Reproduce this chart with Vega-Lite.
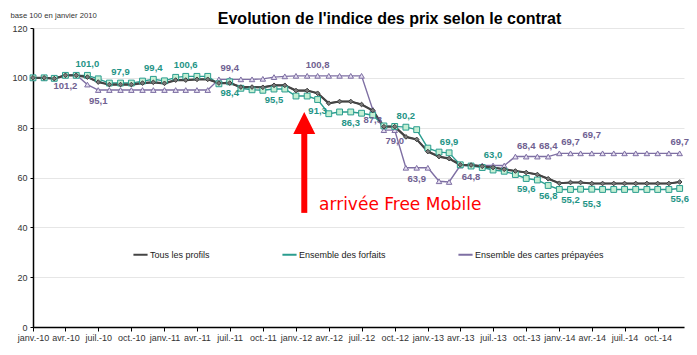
{
  "$schema": "https://vega.github.io/schema/vega-lite/v6.json",
  "width": 651,
  "height": 299,
  "autosize": {"type": "none"},
  "padding": {"left": 33, "top": 28, "right": 13, "bottom": 28},
  "background": "white",
  "config": {"font": "Liberation Sans", "view": {"stroke": null}},
  "title": {
    "text": "Evolution de l'indice des prix selon le contrat",
    "fontSize": 16,
    "fontWeight": "bold",
    "font": "Liberation Sans",
    "color": "#000000",
    "anchor": "middle",
    "frame": "group",
    "dx": 31,
    "offset": -16
  },
  "datasets": {
    "main": [
      {"d": "2010-01-01", "Tous les profils": 100, "Ensemble des forfaits": 100, "Ensemble des cartes prépayées": 100},
      {"d": "2010-02-01", "Tous les profils": 100, "Ensemble des forfaits": 100, "Ensemble des cartes prépayées": 100},
      {"d": "2010-03-01", "Tous les profils": 99.7, "Ensemble des forfaits": 99.8, "Ensemble des cartes prépayées": 99.8},
      {"d": "2010-04-01", "Tous les profils": 101.0, "Ensemble des forfaits": 101.0, "Ensemble des cartes prépayées": 101.2},
      {"d": "2010-05-01", "Tous les profils": 101.0, "Ensemble des forfaits": 101.0, "Ensemble des cartes prépayées": 101.2},
      {"d": "2010-06-01", "Tous les profils": 100.3, "Ensemble des forfaits": 101.0, "Ensemble des cartes prépayées": 97.3},
      {"d": "2010-07-01", "Tous les profils": 98.3, "Ensemble des forfaits": 99.6, "Ensemble des cartes prépayées": 95.1},
      {"d": "2010-08-01", "Tous les profils": 97.3, "Ensemble des forfaits": 97.9, "Ensemble des cartes prépayées": 95.1},
      {"d": "2010-09-01", "Tous les profils": 97.3, "Ensemble des forfaits": 97.9, "Ensemble des cartes prépayées": 95.1},
      {"d": "2010-10-01", "Tous les profils": 97.3, "Ensemble des forfaits": 97.9, "Ensemble des cartes prépayées": 95.1},
      {"d": "2010-11-01", "Tous les profils": 97.9, "Ensemble des forfaits": 98.7, "Ensemble des cartes prépayées": 95.1},
      {"d": "2010-12-01", "Tous les profils": 98.2, "Ensemble des forfaits": 99.4, "Ensemble des cartes prépayées": 95.1},
      {"d": "2011-01-01", "Tous les profils": 97.8, "Ensemble des forfaits": 98.8, "Ensemble des cartes prépayées": 95.1},
      {"d": "2011-02-01", "Tous les profils": 99.1, "Ensemble des forfaits": 100.2, "Ensemble des cartes prépayées": 95.1},
      {"d": "2011-03-01", "Tous les profils": 99.1, "Ensemble des forfaits": 100.6, "Ensemble des cartes prépayées": 95.1},
      {"d": "2011-04-01", "Tous les profils": 99.4, "Ensemble des forfaits": 100.6, "Ensemble des cartes prépayées": 95.1},
      {"d": "2011-05-01", "Tous les profils": 99.4, "Ensemble des forfaits": 100.6, "Ensemble des cartes prépayées": 95.1},
      {"d": "2011-06-01", "Tous les profils": 97.9, "Ensemble des forfaits": 97.6, "Ensemble des cartes prépayées": 99.4},
      {"d": "2011-07-01", "Tous les profils": 97.9, "Ensemble des forfaits": 98.4, "Ensemble des cartes prépayées": 99.4},
      {"d": "2011-08-01", "Tous les profils": 96.3, "Ensemble des forfaits": 95.8, "Ensemble des cartes prépayées": 99.4},
      {"d": "2011-09-01", "Tous les profils": 96.3, "Ensemble des forfaits": 95.2, "Ensemble des cartes prépayées": 99.4},
      {"d": "2011-10-01", "Tous les profils": 96.2, "Ensemble des forfaits": 95.0, "Ensemble des cartes prépayées": 99.6},
      {"d": "2011-11-01", "Tous les profils": 97.0, "Ensemble des forfaits": 95.5, "Ensemble des cartes prépayées": 100.3},
      {"d": "2011-12-01", "Tous les profils": 97.0, "Ensemble des forfaits": 95.5, "Ensemble des cartes prépayées": 100.6},
      {"d": "2012-01-01", "Tous les profils": 94.9, "Ensemble des forfaits": 92.7, "Ensemble des cartes prépayées": 100.8},
      {"d": "2012-02-01", "Tous les profils": 94.9, "Ensemble des forfaits": 92.7, "Ensemble des cartes prépayées": 100.8},
      {"d": "2012-03-01", "Tous les profils": 93.8, "Ensemble des forfaits": 91.3, "Ensemble des cartes prépayées": 100.8},
      {"d": "2012-04-01", "Tous les profils": 89.8, "Ensemble des forfaits": 85.6, "Ensemble des cartes prépayées": 100.8},
      {"d": "2012-05-01", "Tous les profils": 90.5, "Ensemble des forfaits": 86.3, "Ensemble des cartes prépayées": 100.8},
      {"d": "2012-06-01", "Tous les profils": 90.5, "Ensemble des forfaits": 86.3, "Ensemble des cartes prépayées": 100.8},
      {"d": "2012-07-01", "Tous les profils": 89.3, "Ensemble des forfaits": 85.8, "Ensemble des cartes prépayées": 100.8},
      {"d": "2012-08-01", "Tous les profils": 86.9, "Ensemble des forfaits": 85.0, "Ensemble des cartes prépayées": 87.3},
      {"d": "2012-09-01", "Tous les profils": 80.4, "Ensemble des forfaits": 80.7, "Ensemble des cartes prépayées": 79.0},
      {"d": "2012-10-01", "Tous les profils": 80.4, "Ensemble des forfaits": 80.5, "Ensemble des cartes prépayées": 79.0},
      {"d": "2012-11-01", "Tous les profils": 76.3, "Ensemble des forfaits": 80.2, "Ensemble des cartes prépayées": 63.9},
      {"d": "2012-12-01", "Tous les profils": 75.3, "Ensemble des forfaits": 79.2, "Ensemble des cartes prépayées": 63.9},
      {"d": "2013-01-01", "Tous les profils": 70.4, "Ensemble des forfaits": 71.8, "Ensemble des cartes prépayées": 63.9},
      {"d": "2013-02-01", "Tous les profils": 68.4, "Ensemble des forfaits": 70.2, "Ensemble des cartes prépayées": 58.5},
      {"d": "2013-03-01", "Tous les profils": 67.6, "Ensemble des forfaits": 69.9, "Ensemble des cartes prépayées": 58.2},
      {"d": "2013-04-01", "Tous les profils": 65.1, "Ensemble des forfaits": 65.1, "Ensemble des cartes prépayées": 64.8},
      {"d": "2013-05-01", "Tous les profils": 65.0, "Ensemble des forfaits": 64.6, "Ensemble des cartes prépayées": 64.8},
      {"d": "2013-06-01", "Tous les profils": 64.5, "Ensemble des forfaits": 64.0, "Ensemble des cartes prépayées": 64.8},
      {"d": "2013-07-01", "Tous les profils": 64.0, "Ensemble des forfaits": 63.0, "Ensemble des cartes prépayées": 64.8},
      {"d": "2013-08-01", "Tous les profils": 63.3, "Ensemble des forfaits": 62.5, "Ensemble des cartes prépayées": 64.8},
      {"d": "2013-09-01", "Tous les profils": 62.6, "Ensemble des forfaits": 61.2, "Ensemble des cartes prépayées": 68.4},
      {"d": "2013-10-01", "Tous les profils": 62.0, "Ensemble des forfaits": 59.6, "Ensemble des cartes prépayées": 68.4},
      {"d": "2013-11-01", "Tous les profils": 61.2, "Ensemble des forfaits": 59.0, "Ensemble des cartes prépayées": 68.4},
      {"d": "2013-12-01", "Tous les profils": 59.5, "Ensemble des forfaits": 56.8, "Ensemble des cartes prépayées": 68.4},
      {"d": "2014-01-01", "Tous les profils": 57.7, "Ensemble des forfaits": 55.2, "Ensemble des cartes prépayées": 69.7},
      {"d": "2014-02-01", "Tous les profils": 58.0, "Ensemble des forfaits": 55.2, "Ensemble des cartes prépayées": 69.7},
      {"d": "2014-03-01", "Tous les profils": 58.0, "Ensemble des forfaits": 55.3, "Ensemble des cartes prépayées": 69.7},
      {"d": "2014-04-01", "Tous les profils": 57.6, "Ensemble des forfaits": 55.3, "Ensemble des cartes prépayées": 69.7},
      {"d": "2014-05-01", "Tous les profils": 57.6, "Ensemble des forfaits": 55.2, "Ensemble des cartes prépayées": 69.7},
      {"d": "2014-06-01", "Tous les profils": 57.6, "Ensemble des forfaits": 55.2, "Ensemble des cartes prépayées": 69.7},
      {"d": "2014-07-01", "Tous les profils": 57.6, "Ensemble des forfaits": 55.2, "Ensemble des cartes prépayées": 69.7},
      {"d": "2014-08-01", "Tous les profils": 57.6, "Ensemble des forfaits": 55.2, "Ensemble des cartes prépayées": 69.7},
      {"d": "2014-09-01", "Tous les profils": 57.6, "Ensemble des forfaits": 55.2, "Ensemble des cartes prépayées": 69.7},
      {"d": "2014-10-01", "Tous les profils": 57.6, "Ensemble des forfaits": 55.2, "Ensemble des cartes prépayées": 69.7},
      {"d": "2014-11-01", "Tous les profils": 57.6, "Ensemble des forfaits": 55.2, "Ensemble des cartes prépayées": 69.7},
      {"d": "2014-12-01", "Tous les profils": 58.2, "Ensemble des forfaits": 55.6, "Ensemble des cartes prépayées": 69.7}
    ],
    "labUp": [
      {"d": "2010-06-01", "serie": "Ensemble des forfaits", "v": 101.0, "txt": "101,0"},
      {"d": "2010-09-01", "serie": "Ensemble des forfaits", "v": 97.9, "txt": "97,9"},
      {"d": "2010-12-01", "serie": "Ensemble des forfaits", "v": 99.4, "txt": "99,4"},
      {"d": "2011-03-01", "serie": "Ensemble des forfaits", "v": 100.6, "txt": "100,6"},
      {"d": "2012-11-01", "serie": "Ensemble des forfaits", "v": 80.2, "txt": "80,2"},
      {"d": "2013-03-01", "serie": "Ensemble des forfaits", "v": 69.9, "txt": "69,9"},
      {"d": "2013-07-01", "serie": "Ensemble des forfaits", "v": 64.5, "txt": "63,0"},
      {"d": "2011-07-01", "serie": "Ensemble des cartes prépayées", "v": 99.4, "txt": "99,4"},
      {"d": "2012-03-01", "serie": "Ensemble des cartes prépayées", "v": 100.8, "txt": "100,8"},
      {"d": "2013-10-01", "serie": "Ensemble des cartes prépayées", "v": 68.4, "txt": "68,4"},
      {"d": "2013-12-01", "serie": "Ensemble des cartes prépayées", "v": 68.4, "txt": "68,4"},
      {"d": "2014-02-01", "serie": "Ensemble des cartes prépayées", "v": 69.7, "txt": "69,7"},
      {"d": "2014-04-01", "serie": "Ensemble des cartes prépayées", "v": 72.6, "txt": "69,7"},
      {"d": "2014-12-01", "serie": "Ensemble des cartes prépayées", "v": 69.7, "txt": "69,7"}
    ],
    "labDown": [
      {"d": "2011-07-01", "serie": "Ensemble des forfaits", "v": 98.4, "txt": "98,4"},
      {"d": "2011-11-01", "serie": "Ensemble des forfaits", "v": 95.5, "txt": "95,5"},
      {"d": "2012-03-01", "serie": "Ensemble des forfaits", "v": 91.3, "txt": "91,3"},
      {"d": "2012-06-01", "serie": "Ensemble des forfaits", "v": 86.3, "txt": "86,3"},
      {"d": "2013-10-01", "serie": "Ensemble des forfaits", "v": 59.6, "txt": "59,6"},
      {"d": "2013-12-01", "serie": "Ensemble des forfaits", "v": 56.8, "txt": "56,8"},
      {"d": "2014-02-01", "serie": "Ensemble des forfaits", "v": 55.2, "txt": "55,2"},
      {"d": "2014-04-01", "serie": "Ensemble des forfaits", "v": 53.9, "txt": "55,3"},
      {"d": "2014-12-01", "serie": "Ensemble des forfaits", "v": 55.6, "txt": "55,6"},
      {"d": "2010-04-01", "serie": "Ensemble des cartes prépayées", "v": 101.2, "txt": "101,2"},
      {"d": "2010-07-01", "serie": "Ensemble des cartes prépayées", "v": 95.1, "txt": "95,1"},
      {"d": "2012-08-01", "serie": "Ensemble des cartes prépayées", "v": 87.3, "txt": "87,3"},
      {"d": "2012-10-01", "serie": "Ensemble des cartes prépayées", "v": 79.0, "txt": "79,0"},
      {"d": "2012-12-01", "serie": "Ensemble des cartes prépayées", "v": 63.9, "txt": "63,9"},
      {"d": "2013-05-01", "serie": "Ensemble des cartes prépayées", "v": 64.8, "txt": "64,8"}
    ],
    "arrow": [{"d": "2012-01-24", "v": 45.8, "v2": 79}],
    "head": [{"d": "2012-01-24", "v": 81.9}],
    "note": [{"d": "2012-03-05", "v": 49, "txt": "arrivée Free Mobile"}]
  },
  "encoding": {
    "x": {
      "field": "d",
      "type": "temporal",
      "scale": {
        "type": "utc",
        "domain": [
          {"year": 2010, "month": 1, "date": 1, "utc": true},
          {"year": 2014, "month": 12, "date": 13, "utc": true}
        ]
      },
      "axis": {
        "title": null,
        "tickCount": {"interval": "month", "step": 3},
        "labelExpr": "['janv.','févr.','mars','avr.','mai','juin','juil.','août','sept.','oct.','nov.','déc.'][utcmonth(datum.value)] + '-' + utcFormat(datum.value, '%y')",
        "labelFontSize": 9,
        "labelColor": "#333333",
        "labelAngle": 0,
        "labelOverlap": false,
        "labelFlush": false,
        "labelPadding": 2,
        "domainColor": "#000000",
        "domainWidth": 1.5,
        "tickColor": "#000000",
        "tickSize": 4,
        "grid": false
      }
    },
    "y": {
      "field": "v",
      "type": "quantitative",
      "scale": {"domain": [0, 120]},
      "axis": {
        "title": "base 100 en janvier 2010",
        "titleAngle": 0,
        "titleAlign": "left",
        "titleBaseline": "middle",
        "titleX": -23,
        "titleY": -13,
        "titleFontSize": 7.7,
        "titleFontWeight": "normal",
        "titleColor": "#333333",
        "values": [0, 20, 40, 60, 80, 100, 120],
        "labelFontSize": 9,
        "labelColor": "#333333",
        "labelPadding": 3,
        "domainColor": "#000000",
        "domainWidth": 1.5,
        "tickColor": "#000000",
        "tickSize": 3,
        "gridColor": "#e6e6e6",
        "gridWidth": 1
      }
    }
  },
  "layer": [
    {
      "data": {"name": "main"},
      "transform": [{"fold": ["Ensemble des cartes prépayées", "Ensemble des forfaits", "Tous les profils"], "as": ["serie", "v"]}],
      "mark": {"type": "line", "strokeWidth": 1.4},
      "encoding": {
        "color": {
          "field": "serie",
          "type": "nominal",
          "scale": {
            "domain": ["Tous les profils", "Ensemble des forfaits", "Ensemble des cartes prépayées"],
            "range": ["#444444", "#2a9d8f", "#7e6fa3"]
          },
          "legend": {
            "title": null,
            "orient": "none",
            "legendX": 99,
            "legendY": 218,
            "direction": "horizontal",
            "columnPadding": 68,
            "symbolType": "stroke",
            "symbolSize": 200,
            "symbolStrokeWidth": 2,
            "labelFontSize": 9,
            "labelColor": "#222222",
            "labelOffset": 1
          }
        }
      }
    },
    {
      "data": {"name": "main"},
      "mark": {"type": "line", "strokeWidth": 2.2, "color": "#444444"},
      "encoding": {"y": {"field": "Tous les profils", "type": "quantitative"}}
    },
    {
      "data": {"name": "main"},
      "mark": {"type": "point", "shape": "triangle-up", "filled": true, "fill": "#e4ddf0", "stroke": "#7e6fa3", "strokeWidth": 1, "size": 30, "opacity": 1},
      "encoding": {"y": {"field": "Ensemble des cartes prépayées", "type": "quantitative"}}
    },
    {
      "data": {"name": "main"},
      "mark": {"type": "point", "shape": "square", "filled": true, "fill": "#c4efd3", "stroke": "#2a9d8f", "strokeWidth": 1, "size": 34, "opacity": 1},
      "encoding": {"y": {"field": "Ensemble des forfaits", "type": "quantitative"}}
    },
    {
      "data": {"name": "main"},
      "mark": {"type": "point", "shape": "diamond", "filled": true, "fill": "#7a7a7a", "stroke": "#3d3d3d", "strokeWidth": 1, "size": 22, "opacity": 1},
      "encoding": {"y": {"field": "Tous les profils", "type": "quantitative"}}
    },
    {
      "data": {"name": "arrow"},
      "mark": {"type": "rule", "color": "#ff0000", "strokeWidth": 6},
      "encoding": {"y2": {"field": "v2"}}
    },
    {
      "data": {"name": "head"},
      "mark": {"type": "point", "shape": "M0,-1L1,1L-1,1Z", "filled": true, "color": "#ff0000", "size": 484, "opacity": 1}
    },
    {
      "data": {"name": "note"},
      "mark": {"type": "text", "align": "left", "baseline": "middle", "font": "DejaVu Sans", "fontSize": 17, "color": "#ff0000"},
      "encoding": {"text": {"field": "txt"}}
    },
    {
      "data": {"name": "labUp"},
      "transform": [{"filter": "datum.serie === 'Ensemble des forfaits'"}],
      "mark": {"type": "text", "dy": -11, "fontSize": 9.5, "fontWeight": "bold", "baseline": "middle", "color": "#1f9486"},
      "encoding": {"text": {"field": "txt"}}
    },
    {
      "data": {"name": "labUp"},
      "transform": [{"filter": "datum.serie === 'Ensemble des cartes prépayées'"}],
      "mark": {"type": "text", "dy": -11, "fontSize": 9.5, "fontWeight": "bold", "baseline": "middle", "color": "#6f6191"},
      "encoding": {"text": {"field": "txt"}}
    },
    {
      "data": {"name": "labDown"},
      "transform": [{"filter": "datum.serie === 'Ensemble des forfaits'"}],
      "mark": {"type": "text", "dy": 11, "fontSize": 9.5, "fontWeight": "bold", "baseline": "middle", "color": "#1f9486"},
      "encoding": {"text": {"field": "txt"}}
    },
    {
      "data": {"name": "labDown"},
      "transform": [{"filter": "datum.serie === 'Ensemble des cartes prépayées'"}],
      "mark": {"type": "text", "dy": 11, "fontSize": 9.5, "fontWeight": "bold", "baseline": "middle", "color": "#6f6191"},
      "encoding": {"text": {"field": "txt"}}
    }
  ]
}
